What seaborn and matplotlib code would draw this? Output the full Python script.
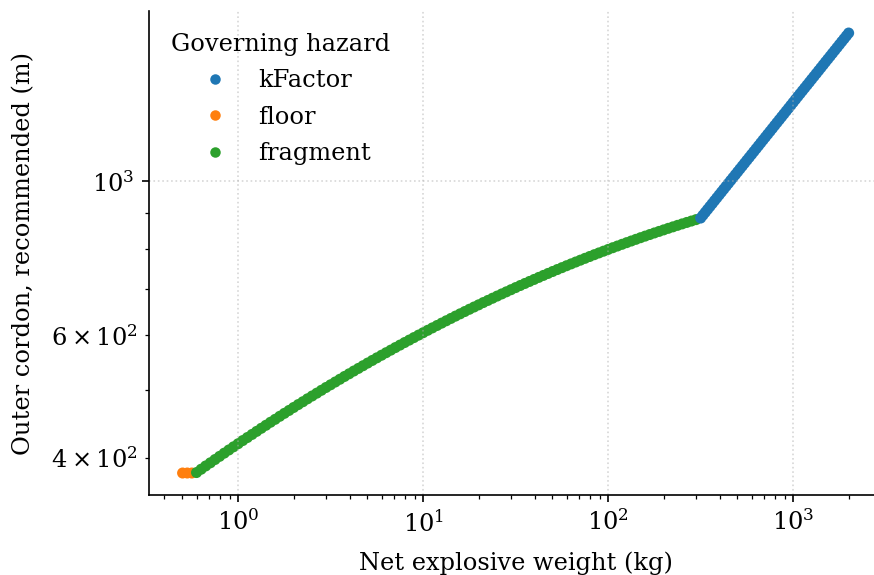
import seaborn as sns
import matplotlib.pyplot as plt
import pandas as pd

# -------------------------------
# Values
# net explosive weight (kg) vs recommended outer cordon (m)
# -------------------------------
floor_w = [0.501, 0.531, 0.562]
floor_d = [380.0, 380.0, 380.0]

fragment_w = [
    0.596, 0.631, 0.668, 0.708, 0.750, 0.794, 0.841, 0.891, 0.944,
    1.000, 1.059, 1.122, 1.189, 1.259, 1.334, 1.413, 1.496, 1.585, 1.679,
    1.778, 1.884, 1.995, 2.113, 2.239, 2.371, 2.512, 2.661, 2.818, 2.985,
    3.162, 3.350, 3.548, 3.758, 3.981, 4.217, 4.467, 4.732, 5.012, 5.309,
    5.623, 5.957, 6.310, 6.683, 7.079, 7.499, 7.943, 8.414, 8.913, 9.441,
    10.00, 10.59, 11.22, 11.89, 12.59, 13.34, 14.13, 14.96, 15.85, 16.79,
    17.78, 18.84, 19.95, 21.13, 22.39, 23.71, 25.12, 26.61, 28.18, 29.85,
    31.62, 33.50, 35.48, 37.58, 39.81, 42.17, 44.67, 47.32, 50.12, 53.09,
    56.23, 59.57, 63.10, 66.83, 70.79, 74.99, 79.43, 84.14, 89.13, 94.41,
    100.0, 105.9, 112.2, 118.9, 125.9, 133.4, 141.3, 149.6, 158.5, 167.9,
    177.8, 188.4, 199.5, 211.3, 223.9, 237.1, 251.2, 266.1, 281.8, 298.5,
]
fragment_d = [
    380.6, 384.8, 389.0, 393.1, 397.4, 401.6, 405.9, 410.2, 414.5,
    418.8, 423.2, 427.5, 431.9, 436.3, 440.8, 445.2, 449.7, 454.1, 458.7,
    463.2, 467.7, 472.3, 476.9, 481.4, 486.1, 490.7, 495.3, 500.0, 504.7,
    509.3, 514.0, 518.7, 523.5, 528.2, 533.0, 537.7, 542.5, 547.3, 552.1,
    556.9, 561.7, 566.5, 571.3, 576.2, 581.0, 585.9, 590.7, 595.6, 600.5,
    605.3, 610.2, 615.1, 620.0, 624.9, 629.8, 634.7, 639.6, 644.5, 649.4,
    654.3, 659.2, 664.0, 669.0, 673.8, 678.7, 683.6, 688.5, 693.3, 698.2,
    703.1, 708.0, 712.8, 717.6, 722.4, 727.3, 732.1, 736.9, 741.7, 746.5,
    751.2, 756.0, 760.7, 765.4, 770.1, 774.8, 779.5, 784.2, 788.8, 793.4,
    798.0, 802.6, 807.1, 811.7, 816.2, 820.7, 825.2, 829.7, 834.1, 838.5,
    842.9, 847.2, 851.5, 855.9, 860.1, 864.4, 868.6, 872.8, 876.9, 881.0,
]

kfactor_w = [
    316.2, 325.4, 335.0, 344.8, 354.8, 365.2, 375.8, 386.8, 398.1, 409.7,
    421.7, 434.0, 446.7, 459.7, 473.2, 487.0, 501.2, 515.8, 530.9, 546.4,
    562.3, 578.7, 595.7, 613.1, 631.0, 649.4, 668.3, 687.8, 707.9, 728.6,
    749.9, 771.8, 794.3, 817.5, 841.4, 866.0, 891.3, 917.3, 944.1, 971.7,
    1000, 1029, 1059, 1090, 1122, 1155, 1189, 1224, 1259, 1296,
    1334, 1373, 1413, 1454, 1496, 1540, 1585, 1631, 1679, 1728,
    1778, 1830, 1884, 1939, 1995,
]
kfactor_d = [
    885.6, 894.1, 902.8, 911.5, 920.2, 929.1, 938.1, 947.1, 956.3, 965.5,
    974.8, 984.2, 993.7, 1003.3, 1012.9, 1022.7, 1032.5, 1042.5, 1052.5, 1062.6,
    1072.9, 1083.2, 1093.7, 1104.2, 1114.9, 1125.6, 1136.5, 1147.5, 1158.5, 1169.7,
    1180.9, 1192.3, 1203.9, 1215.5, 1227.2, 1239.0, 1251.0, 1263.1, 1275.2, 1287.5,
    1300.0, 1312.5, 1325.2, 1338.0, 1350.9, 1363.9, 1377.0, 1390.3, 1403.6, 1417.1,
    1430.8, 1444.6, 1458.5, 1472.6, 1486.8, 1501.1, 1515.5, 1530.1, 1544.9, 1559.8,
    1574.8, 1590.0, 1605.3, 1620.8, 1636.4,
]

hazard_order = ["kFactor", "floor", "fragment"]
hazard_colors = ["#1f77b4", "#ff7f0e", "#2ca02c"]

df = pd.concat([
    pd.DataFrame({"w": floor_w, "d": floor_d, "hazard": "floor"}),
    pd.DataFrame({"w": fragment_w, "d": fragment_d, "hazard": "fragment"}),
    pd.DataFrame({"w": kfactor_w, "d": kfactor_d, "hazard": "kFactor"}),
], ignore_index=True).sort_values("w")

# -------------------------------
# Styling: plain matplotlib look, serif text
# -------------------------------
plt.rcParams["font.family"] = ["DejaVu Serif"]
plt.rcParams["font.size"] = 11.6

# 874 x 575 px at 150 dpi
fig = plt.figure(figsize=(874 / 150, 575 / 150), dpi=150)
ax = fig.add_axes([0.1708, 0.1391, 0.8383, 0.8417])

sns.scatterplot(
    data=df, x="w", y="d", hue="hazard", hue_order=hazard_order,
    palette=hazard_colors, s=28, linewidth=0, ax=ax,
)
ax.set_xscale("log")
ax.set_yscale("log")
ax.grid(True, which="major", linestyle=":", alpha=0.5)
sns.despine(ax=ax)

ax.set_xlabel("Net explosive weight (kg)", labelpad=7.5)
ax.set_ylabel("Outer cordon, recommended (m)", labelpad=7.5)
ax.legend(title="Governing hazard", frameon=False, loc="upper left",
          labelspacing=0.56, markerscale=0.95)

fig.savefig("out.png", dpi=150)
plt.close(fig)
